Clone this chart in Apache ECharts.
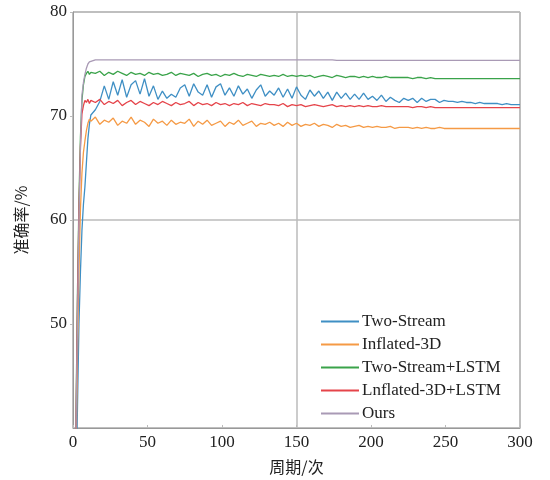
<!DOCTYPE html>
<html>
<head>
<meta charset="utf-8">
<script src="https://cdn.jsdelivr.net/npm/echarts@6/dist/echarts.min.js"></script>
<style>
  html, body { margin: 0; padding: 0; background: #fff; }
  #main { width: 550px; height: 480px; }
</style>
</head>
<body>
<div id="main"></div>
<script>
// 周期（横轴）
let epochs = [
    1, 2, 3, 4, 5, 6, 7, 8, 9, 10, 11, 12,
    15, 18, 21, 24, 27, 30, 33, 36, 39, 42,
    45, 48, 51, 54, 57, 60, 63, 66, 69, 72,
    75, 78, 81, 84, 87, 90, 93, 96, 99, 102,
    105, 108, 111, 114, 117, 120, 123, 126, 129, 132,
    135, 138, 141, 144, 147, 150, 153, 156, 159, 162,
    165, 168, 171, 174, 177, 180, 183, 186, 189, 192,
    195, 198, 201, 204, 207, 210, 213, 216, 219, 222,
    225, 228, 231, 234, 237, 240, 243, 246, 249, 252,
    255, 258, 261, 264, 267, 270, 273, 276, 279, 282,
    285, 288, 291, 294, 297, 300
];

let seriesNames = ['Two-Stream', 'Inflated-3D', 'Two-Stream+LSTM', 'Lnflated-3D+LSTM', 'Ours'];
let seriesColors = ['#3f8fc4', '#f59a45', '#3aa34a', '#e5444a', '#a99ab5'];

let twoStream = [
    25, 33, 42, 50, 55, 59, 61.5, 63.2, 65.5, 67.8, 69.2, 70.1,
    70.6, 71.4, 72.9, 71.6, 73.3, 72.0, 73.5, 71.8, 73.0, 73.4,
    72.1, 73.6, 71.9, 72.9, 71.6, 72.4, 71.7, 72.1, 71.8, 72.7,
    73.0, 71.9, 73.1, 72.3, 72.0, 73.0, 71.8, 72.8, 73.1, 72.0,
    72.7, 71.9, 72.9, 72.1, 72.6, 71.7, 72.5, 73.0, 71.9, 72.4,
    72.0, 72.7, 71.8, 72.6, 71.7, 72.8, 72.0, 71.6, 72.5, 71.9,
    72.4, 71.7, 72.3, 71.5, 72.3, 71.7, 72.2, 71.6, 72.1, 71.6,
    72.2, 71.6, 71.9, 71.5, 72.0, 71.4, 71.8, 71.5, 71.3, 71.7,
    71.5, 71.7, 71.3, 71.7, 71.4, 71.6, 71.6, 71.3, 71.5, 71.4,
    71.4, 71.3, 71.4, 71.3, 71.3, 71.2, 71.3, 71.2, 71.2, 71.2,
    71.2, 71.1, 71.2, 71.1, 71.1, 71.1
];

let inflated3D = [
    28, 37, 47, 55, 61, 64.5, 66.5, 67.6, 68.6, 69.3, 69.7, 69.5,
    69.9, 69.2, 69.6, 69.4, 69.8, 69.1, 69.5, 69.3, 69.9, 69.2,
    69.6, 69.4, 69.0, 69.7, 69.3, 69.5, 69.1, 69.6, 69.2, 69.4,
    69.3, 69.7, 69.0, 69.5, 69.2, 69.6, 69.1, 69.3, 69.5, 69.0,
    69.4, 69.2, 69.6, 69.1, 69.3, 69.5, 69.0, 69.3, 69.2, 69.4,
    69.1, 69.3, 69.0, 69.4, 69.1, 69.3, 69.0, 69.2, 69.1, 69.3,
    69.0, 69.2, 69.1, 68.9, 69.2, 69.0, 69.1, 68.9, 69.0, 69.1,
    68.9, 69.0, 68.9, 69.0, 68.9, 68.9, 69.0, 68.8, 68.9, 68.9,
    68.9, 68.8, 68.9, 68.8, 68.9, 68.8, 68.8, 68.9, 68.8, 68.8,
    68.8, 68.8, 68.8, 68.8, 68.8, 68.8, 68.8, 68.8, 68.8, 68.8,
    68.8, 68.8, 68.8, 68.8, 68.8, 68.8
];

let twoStreamLstm = [
    30, 41, 53, 62, 68, 71.5, 73.0, 73.8, 74.1, 74.3, 74.0, 74.2,
    74.1, 74.3, 73.9, 74.2, 74.0, 74.3, 74.1, 73.9, 74.2, 74.0,
    74.1, 73.9, 74.2, 74.0, 74.1, 73.9, 74.0, 74.2, 73.9, 74.1,
    74.0, 73.9, 74.1, 73.8, 74.0, 74.1, 73.9, 74.0, 73.8, 74.0,
    73.9, 74.1, 73.9, 73.8, 74.0, 73.9, 73.8, 74.0, 73.9, 73.8,
    73.9, 73.8, 74.0, 73.8, 73.9, 73.8, 73.9, 73.8, 73.9, 73.7,
    73.8, 73.9, 73.8, 73.7, 73.9, 73.8, 73.7, 73.8, 73.8, 73.7,
    73.8, 73.7, 73.8, 73.7, 73.7, 73.8, 73.7, 73.7, 73.7, 73.7,
    73.7, 73.6, 73.7, 73.7, 73.6, 73.7, 73.6, 73.6, 73.6, 73.6,
    73.6, 73.6, 73.6, 73.6, 73.6, 73.6, 73.6, 73.6, 73.6, 73.6,
    73.6, 73.6, 73.6, 73.6, 73.6, 73.6
];

let inflated3DLstm = [
    30, 40, 52, 61, 67, 70.2, 71.0, 71.5, 71.3, 71.6, 71.2, 71.5,
    71.3, 71.6, 71.1, 71.4, 71.2, 71.5, 71.0, 71.3, 71.5, 71.1,
    71.4, 71.2, 71.0, 71.3, 71.1, 71.4, 71.2, 71.0, 71.3, 71.1,
    71.2, 71.4, 71.0, 71.3, 71.1, 71.2, 71.0, 71.3, 71.1, 71.2,
    71.0, 71.2, 71.1, 71.3, 71.0, 71.2, 71.1, 71.0, 71.2, 71.1,
    71.1, 71.0, 71.2, 70.9, 71.1, 71.0, 71.1, 70.9, 71.0, 71.1,
    71.0, 70.9, 71.0, 71.1, 70.9, 71.0, 70.9, 71.0, 70.9, 71.0,
    70.9, 71.0, 70.9, 70.9, 71.0, 70.9, 70.9, 70.9, 70.9, 70.9,
    70.9, 70.8, 70.9, 70.9, 70.8, 70.9, 70.8, 70.8, 70.8, 70.8,
    70.8, 70.8, 70.8, 70.8, 70.8, 70.8, 70.8, 70.8, 70.8, 70.8,
    70.8, 70.8, 70.8, 70.8, 70.8, 70.8
];

let ours = [
    30, 40, 50, 60, 67, 72, 73.2, 74.0, 74.6, 75.0, 75.2, 75.35,
    75.4, 75.4, 75.4, 75.4, 75.4, 75.4, 75.4, 75.4, 75.4, 75.4,
    75.4, 75.4, 75.4, 75.4, 75.4, 75.4, 75.4, 75.4, 75.4, 75.4,
    75.4, 75.4, 75.4, 75.4, 75.4, 75.4, 75.4, 75.4, 75.4, 75.4,
    75.4, 75.4, 75.4, 75.4, 75.4, 75.4, 75.4, 75.4, 75.4, 75.4,
    75.4, 75.4, 75.4, 75.4, 75.4, 75.4, 75.4, 75.4, 75.4, 75.4,
    75.4, 75.4, 75.4, 75.4, 75.35, 75.35, 75.35, 75.35, 75.35, 75.35,
    75.35, 75.35, 75.35, 75.35, 75.35, 75.35, 75.35, 75.35, 75.35, 75.35,
    75.35, 75.35, 75.35, 75.35, 75.35, 75.35, 75.35, 75.35, 75.35, 75.35,
    75.35, 75.35, 75.35, 75.35, 75.35, 75.35, 75.35, 75.35, 75.35, 75.35,
    75.35, 75.35, 75.35, 75.35, 75.35, 75.35
];

let allValues = [twoStream, inflated3D, twoStreamLstm, inflated3DLstm, ours];

let serifFont = '"Liberation Serif", "DejaVu Serif", serif';
let cjkFont = '"Noto Sans CJK SC", sans-serif';

let chart = echarts.init(document.getElementById('main'), null, { renderer: 'canvas' });

let series = seriesNames.map(function (name, i) {
    return {
        name: name,
        type: 'line',
        xAxisIndex: 0,
        yAxisIndex: 0,
        showSymbol: false,
        symbol: 'none',
        clip: true,
        animation: false,
        lineStyle: { width: 1.3, color: seriesColors[i] },
        itemStyle: { color: seriesColors[i] },
        data: epochs.map(function (x, k) { return [x, allValues[i][k]]; })
    };
});

const option = {
    backgroundColor: '#fff',
    animation: false,
    grid: {
        left: 73,
        right: 30,
        top: 12,
        bottom: 52,
        show: true,
        borderColor: '#999',
        borderWidth: 1
    },
    legend: {
        orient: 'vertical',
        left: 316,
        top: 308,
        icon: 'rect',
        itemWidth: 38,
        itemHeight: 2,
        itemGap: 6,
        data: seriesNames,
        textStyle: {
            fontFamily: serifFont,
            fontSize: 17,
            color: '#222',
            lineHeight: 17,
            padding: [0, 0, 0, -2]
        }
    },
    xAxis: [
        {
            type: 'value',
            min: 0,
            max: 300,
            interval: 50,
            name: '周期/次',
            nameLocation: 'middle',
            nameGap: 31,
            nameTextStyle: { fontFamily: cjkFont, fontSize: 16, color: '#222' },
            axisLine: { show: true, lineStyle: { color: '#999' } },
            axisTick: { show: true, inside: true, length: 3, lineStyle: { color: '#bbb' } },
            axisLabel: { fontFamily: serifFont, fontSize: 17, color: '#222', margin: 6 },
            splitLine: { show: false }
        },
        {
            // 只在 150 处画网格线
            type: 'value',
            min: 0,
            max: 300,
            interval: 150,
            position: 'top',
            axisLine: { show: false },
            axisTick: { show: false },
            axisLabel: { show: false },
            splitLine: { show: true, lineStyle: { color: '#bbb', width: 1.5 } }
        }
    ],
    yAxis: [
        {
            type: 'value',
            min: 40,
            max: 80,
            interval: 10,
            name: '准确率/%',
            nameLocation: 'middle',
            nameGap: 44,
            nameRotate: 90,
            nameTextStyle: { fontFamily: cjkFont, fontSize: 16, color: '#222' },
            axisLine: { show: true, lineStyle: { color: '#999' } },
            axisTick: { show: true, length: 3, lineStyle: { color: '#bbb' } },
            axisLabel: { fontFamily: serifFont, fontSize: 17, color: '#222', margin: 6, showMinLabel: false },
            splitLine: { show: false }
        },
        {
            // 只在 60 处画网格线
            type: 'value',
            min: 40,
            max: 80,
            interval: 20,
            position: 'right',
            axisLine: { show: false },
            axisTick: { show: false },
            axisLabel: { show: false },
            splitLine: { show: true, lineStyle: { color: '#bbb', width: 1.5 } }
        }
    ],
    series: series
};

chart.setOption(option);
</script>
</body>
</html>
